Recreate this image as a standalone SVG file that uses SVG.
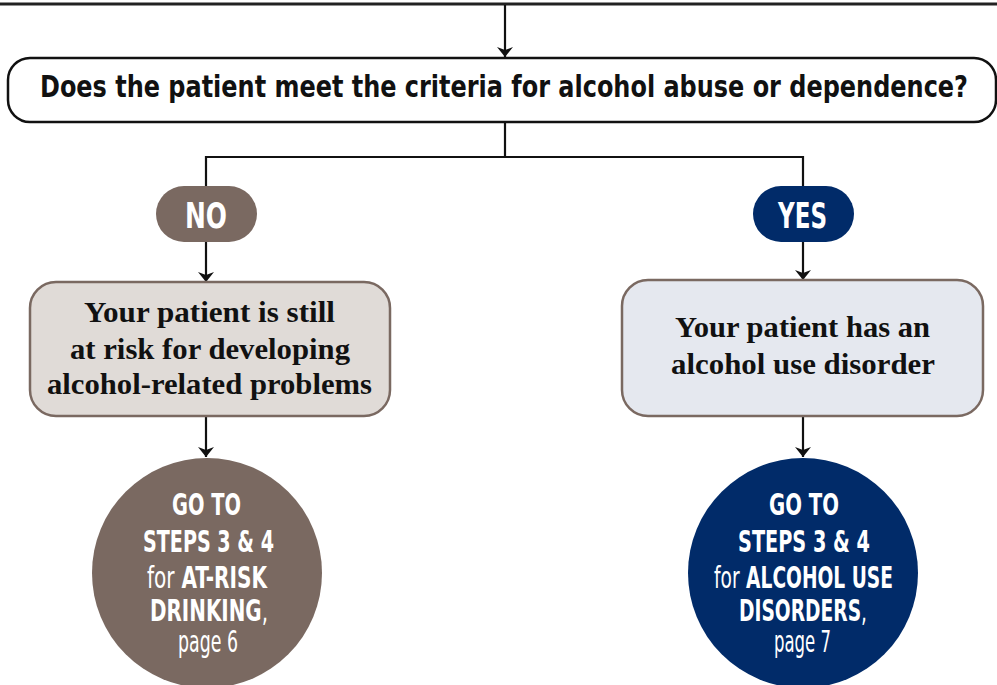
<svg xmlns="http://www.w3.org/2000/svg" width="997" height="685" viewBox="0 0 997 685">
<defs>
<marker id="ah" viewBox="0 0 10 16" refX="10" refY="8" markerWidth="10" markerHeight="16" markerUnits="userSpaceOnUse" orient="auto">
<path d="M0,0 L10,8 L0,16 L3,8 Z" fill="#111"/>
</marker>
<style>
.ln{stroke:#111;stroke-width:2.2;fill:none}
.cond{font-family:"DejaVu Sans Condensed","Liberation Sans Narrow","DejaVu Sans",sans-serif;font-weight:bold}
.q{font-size:31px;fill:#111}
.pill{font-size:36px;fill:#fff}
.ser{font-family:"Liberation Serif","DejaVu Serif",serif;font-weight:bold;font-size:30px;fill:#111}
.circ{font-size:31px;fill:#fff}
.reg{font-weight:normal}
</style>
</defs>
<rect width="997" height="685" fill="#fff"/>
<g id="connectors">
<line x1="0" y1="4" x2="997" y2="4" stroke="#222" stroke-width="3"/>
<line class="ln" x1="505" y1="5" x2="505" y2="57" marker-end="url(#ah)"/>
<polyline class="ln" points="505,122 505,157 206,157 206,187"/>
<polyline class="ln" points="505,157 803,157 803,187"/>
<line class="ln" x1="206" y1="242" x2="206" y2="282" marker-end="url(#ah)"/>
<line class="ln" x1="206" y1="416" x2="206" y2="457" marker-end="url(#ah)"/>
<line class="ln" x1="803" y1="242" x2="803" y2="280" marker-end="url(#ah)"/>
<line class="ln" x1="803" y1="416" x2="803" y2="457" marker-end="url(#ah)"/>
</g>
<g id="question">
<rect x="8" y="58" width="988" height="64" rx="22" fill="#fff" stroke="#111" stroke-width="2.5"/>
<text class="cond q" x="40" y="97" textLength="928" lengthAdjust="spacingAndGlyphs">Does the patient meet the criteria for alcohol abuse or dependence?</text>
</g>
<g id="no">
<rect x="156" y="186" width="101" height="56" rx="28" fill="#7a6961"/>
<text class="cond pill" x="185" y="228" textLength="42" lengthAdjust="spacingAndGlyphs">NO</text>
</g>
<g id="yes">
<rect x="753" y="186" width="101" height="56" rx="28" fill="#012b69"/>
<text class="cond pill" x="778" y="228" textLength="49" lengthAdjust="spacingAndGlyphs">YES</text>
</g>
<g id="risk-box">
<rect x="30" y="282" width="360" height="134" rx="26" fill="#e0dbd7" stroke="#7a6961" stroke-width="2.5"/>
<text class="ser" x="84" y="322" textLength="251" lengthAdjust="spacingAndGlyphs">Your patient is still</text>
<text class="ser" x="70" y="359" textLength="280" lengthAdjust="spacingAndGlyphs">at risk for developing</text>
<text class="ser" x="47" y="394" textLength="325" lengthAdjust="spacingAndGlyphs">alcohol-related problems</text>
</g>
<g id="disorder-box">
<rect x="622" y="280" width="361" height="136" rx="26" fill="#e5e8ef" stroke="#7a6961" stroke-width="2.5"/>
<text class="ser" x="675" y="337" textLength="255" lengthAdjust="spacingAndGlyphs">Your patient has an</text>
<text class="ser" x="671" y="374" textLength="264" lengthAdjust="spacingAndGlyphs">alcohol use disorder</text>
</g>
<g id="risk-circle">
<circle cx="207" cy="573" r="115" fill="#7a6961"/>
<text class="cond circ" x="172" y="515" textLength="69" lengthAdjust="spacingAndGlyphs">GO TO</text>
<text class="cond circ" x="143" y="552" textLength="131" lengthAdjust="spacingAndGlyphs">STEPS 3 &amp; 4</text>
<text class="cond circ" x="147" y="588" textLength="120" lengthAdjust="spacingAndGlyphs"><tspan class="reg">for</tspan> AT-RISK</text>
<text class="cond circ" x="150" y="621" textLength="118" lengthAdjust="spacingAndGlyphs">DRINKING<tspan class="reg">,</tspan></text>
<text class="cond circ reg" x="178" y="652" textLength="60" lengthAdjust="spacingAndGlyphs">page 6</text>
</g>
<g id="disorder-circle">
<circle cx="803" cy="573" r="115" fill="#012b69"/>
<text class="cond circ" x="769" y="515" textLength="70" lengthAdjust="spacingAndGlyphs">GO TO</text>
<text class="cond circ" x="738" y="552" textLength="132" lengthAdjust="spacingAndGlyphs">STEPS 3 &amp; 4</text>
<text class="cond circ" x="714" y="588" textLength="179" lengthAdjust="spacingAndGlyphs"><tspan class="reg">for</tspan> ALCOHOL USE</text>
<text class="cond circ" x="739" y="621" textLength="128" lengthAdjust="spacingAndGlyphs">DISORDERS<tspan class="reg">,</tspan></text>
<text class="cond circ reg" x="774" y="652" textLength="57" lengthAdjust="spacingAndGlyphs">page 7</text>
</g>
</svg>
